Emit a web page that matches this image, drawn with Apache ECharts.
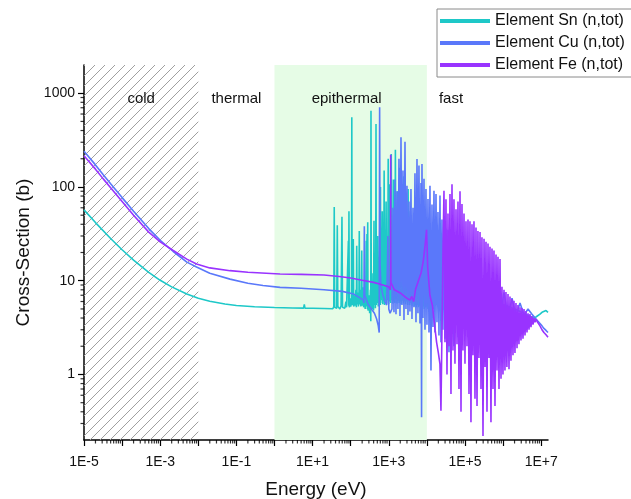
<!DOCTYPE html>
<html><head><meta charset="utf-8">
<script src="https://cdn.jsdelivr.net/npm/echarts/dist/echarts.min.js"></script>
<style>html,body{margin:0;padding:0;background:#fff}#c{width:631px;height:499px}</style>
</head><body><div id="c"></div>
<script>
// ---------------- data (energy in eV, cross-section in barns) ----------------
const snData = [[1e-5,57],[2e-5,41.7],[5e-5,28.2],[1e-4,21.4],[2e-4,16.6],[5e-4,12.3],[1e-3,10.1],[2e-3,8.6],[5e-3,7.2],[1e-2,6.5],[2e-2,6.05],[5e-2,5.65],[0.1,5.45],[0.3,5.28],[1,5.18],[3,5.12],[5.8,5.1],[6.06,5.6],[6.3,5.1],[10,5.08],[20,5.05],[34,5.02],
[36,5.3],[37,61],[38,5.2],[43,5.1],[44.5,39],[46,5.3],[52,5.0],[56,5.4],[59,48],[61,5.2],[70,5.1],[75,6],[78,5.2],[85,5.3],[87,26.7],[88.5,5.4],[90,55],[92,5.2],[98,6.5],[100,5.3],[105,5.8],[107,555],[109,5.5],[114,6.2],[117,27.8],[120,5.3],[126,7],[130,5.4],[137,8],[141,5.2],[144,23.6],[147,5.6],[155,7.5],[160,5.3],[165,6.5],[168,34],[171,5.6],[180,8],[185,5.3],[190,6.5],[195,21],[199,5.4],[210,8.5],[218,5.2],[230,7.5],[240,5.0],[250,9],[256,26.7],[260,5.3],[268,31.5],[273,5.0],[280,42],[285,4.8],[300,7],[315,4.5],[330,8],[337,3.7],[341,650],[347,5.2],[360,10],[370,5.0],[385,12],[398,4.8],[409,43.6],[418,5.5],[430,14],[445,5.1],[455,20],[462,470],[470,5.5],[485,15],[500,5.8],[515,30],[530,5.3],[548,18],[565,6],[582,45],[600,5.5],[605,100],[615,5.8],[635,25],[655,6.2],[675,55],[695,5.6],[715,20],[735,6],[755,150],[775,5.5],[800,35],[825,6.1],[850,70],[875,5.7],[905,22],[935,6.2],[965,200],[995,5.6],[1025,107],[1055,6],[1090,40],[1125,5.8],[1160,225],[1200,6.2],[1240,28],[1280,5.7],[1320,120],[1360,6],[1400,45],[1445,5.8],[1490,250],[1540,6.3],[1590,35],[1640,5.7],[1690,90],[1745,6.1],[1800,25],[1860,5.8],[1920,160],[1980,6],[2040,40],[2110,5.6],[2180,75],[2250,6.1],[2320,22],[2400,5.7],[2480,130],[2560,6],[2650,30],[2740,5.6],[2830,65],[2920,6],[3020,25],[3120,5.5],[3220,95],[3330,6],[3440,30],[3550,5.5],[3670,55],[3790,5.8],[3920,20],[4050,5.4],[4190,40],[4330,5.7],[4480,18],[4630,5.3],[4790,32],[4950,5.5],[5120,15],[5300,5.2],[5480,25],[5670,5.5],[5870,13],[6070,5.2],[6280,22],[6500,5.4],[6800,12],[7100,5.1],[7400,18],[7700,5.3],[8100,10],[8500,5],[8900,14],[9400,5.2],[1.0e4,10],[1.07e4,5],[1.15e4,12],[1.25e4,5.4],[1.35e4,9],[1.5e4,5],[1.65e4,10],[1.8e4,5.5],[2e4,8],[2.25e4,5],[2.5e4,9],[2.8e4,5.5],[3.2e4,8],[3.6e4,5.2],[4.1e4,8],[4.7e4,5.5],[5.4e4,7.5],[6.2e4,5.2],[7e4,7.5],[8e4,5.5],[9.3e4,7],[1.1e5,5.5],[1.3e5,7],[1.5e5,5.8],[1.8e5,6.8],[2.2e5,5.6],[2.7e5,6.5],[3.3e5,5.8],[4e5,6.3],[5e5,5.7],[6.5e5,6],[8.5e5,5.5],[1.1e6,5.5],[1.5e6,5.2],[2e6,5.0],[2.8e6,4.7],[3.8e6,4.4],[5e6,4.2],[6.1e6,4.0],[7.3e6,4.1],[8.2e6,4.2],[9.3e6,4.4],[1.05e7,4.6],[1.18e7,4.75],[1.34e7,4.8],[1.51e7,4.6]];

const cuData = [[1e-5,240],[2e-5,172],[3.2e-5,135],[5e-5,108],[1e-4,77],[2e-4,55],[5e-4,36],[1e-3,27],[2.2e-3,20.5],[5e-3,15.8],[9e-3,14],[2e-2,12],[6.8e-2,10.4],[0.2,9.4],[0.5,8.9],[1.4,8.5],[5,8.3],[20,8.0],[60,7.7],[120,7.2],[171,6.6],[215,6.2],[222,5.8],[228,38],[234,7.0],[283,5.65],[350,5.0],[420,4.5],[480,3.9],[530,3.3],[560,2.8],[575,710],[590,15],[620,9],[700,7],[800,6],[880,5.5],[950,30],[1000,5],[1080,4.5],[1150,4.3],
[1213,5.0],[1289,60],[1368,4.6],[1453,120],[1545,4.4],[1641,90],[1742,5.0],[1851,200],[1968,4.2],[2090,340],[2220,5.5],[2358,150],[2506,3.8],[2662,303],[2825,5.0],[3001,103],[3191,4.3],[3390,70],[3597,4.7],[3821,95],[4064,3.9],[4317,60],[4581,5.2],[4866,140],[5176,3.6],[5498,199],[5834,4.5],[6197,169],[6592,3.5],[7003,110],[7250,0.35],[7430,176],[7893,4],[8395,122],[8918,3.0],[9462,95],[1.005e4,3.4],[1.069e4,74.5],[1.136e4,2.8],[1.205e4,103],[1.28e4,1.1],[1.361e4,65],[1.446e4,3.2],[1.535e4,91],[1.631e4,2.8],[1.734e4,84],[1.842e4,3.6],[1.954e4,54],[2.076e4,2.6],[2.208e4,81],[2.345e4,2.2],[2.489e4,45],[2.644e4,3.0],[2.812e4,49],[2.987e4,2.4],[3.17e4,36],[3.37e4,2.8],[3.58e4,35],[3.80e4,1.73],[4.04e4,28],[4.29e4,3.3],[4.56e4,25],[5.14e4,2.0],[5.81e4,22],[6.55e4,2.5],[7.40e4,20],[8.34e4,2.2],[9.42e4,18],[1.062e5,3],[1.20e5,16],[1.352e5,2.5],[1.623e5,14],[1.945e5,3],[2.33e5,12],[2.79e5,3.5],[3.36e5,11],[4.02e5,3.5],[4.81e5,10],[5.77e5,3.8],[6.93e5,9],[8.30e5,4.0],[1.057e6,7.5],[1.346e6,4.0],[1.714e6,6.5],[2.18e6,4.2],[2.78e6,5.8],[3.54e6,4.3],[4.51e6,5.0],[5.74e6,4.4],[7.31e6,3.9],[8.24e6,3.7],[9.31e6,3.5],[1.05e7,3.3],[1.18e7,3.1],[1.34e7,2.95],[1.51e7,2.8]];

const feData = [[1e-5,215],[2e-5,155],[3.2e-5,122],[5e-5,98],[1e-4,70],[2e-4,50],[5e-4,33],[1e-3,26],[2.2e-3,21],[5e-3,17],[9e-3,15.1],[2e-2,13.7],[6.8e-2,12.8],[0.2,12.3],[1.4,11.8],[5,11.7],[20,11.5],[50,11.1],[100,10.7],[200,10.1],[400,9.6],[700,9.0],[1000,8.6],[1100,8.0],[1122,220],[1145,9.5],[1400,8.0],[2000,7.4],[3000,6.5],[3600,6.2],[4000,6.8],[4500,6.0],[5000,8],[6000,10],[7000,12],[8000,16],[9000,24],[9800,35],[1.05e4,14],[1.2e4,7],[1.4e4,5.4],[1.6e4,3.3],[1.8e4,2.2],[2.0e4,1.7],[2.2e4,1.3],
[2.34e4,0.41],[2.49e4,3.0],[2.64e4,20],[2.81e4,91],[2.99e4,2.2],[3.17e4,74],[3.37e4,1.0],[3.58e4,52],[3.80e4,2.0],[4.04e4,84],[4.29e4,0.62],[4.56e4,107],[4.84e4,1.8],[5.14e4,74],[5.46e4,1.3],[5.81e4,58],[6.17e4,2.1],[6.55e4,70],[6.96e4,0.7],[7.40e4,90],[7.86e4,0.40],[8.34e4,66],[8.86e4,1.8],[9.42e4,52],[1.0e5,1.3],[1.062e5,43],[1.128e5,2.0],[1.20e5,45],[1.275e5,0.62],[1.352e5,43],[1.436e5,0.31],[1.528e5,40],[1.623e5,1.6],[1.722e5,43],[1.83e5,0.55],[1.945e5,37],[2.07e5,0.46],[2.19e5,34],[2.33e5,1.5],[2.48e5,33],[2.63e5,0.7],[2.79e5,29],[2.97e5,0.22],[3.16e5,28],[3.36e5,1.2],[3.56e5,26],[3.78e5,0.40],[4.02e5,25],[4.27e5,1.5],[4.53e5,23],[4.81e5,0.31],[5.12e5,22],[5.44e5,0.7],[5.77e5,21],[6.13e5,0.46],[6.52e5,19],[6.93e5,1.1],[7.35e5,18],[7.81e5,0.7],[8.30e5,17],[8.82e5,0.9],[9.35e5,8.6],[9.93e5,1.0],[1.057e6,8.0],[1.12e6,1.1],[1.19e6,7.6],[1.26e6,1.2],[1.346e6,7.2],[1.43e6,1.14],[1.517e6,6.8],[1.61e6,1.4],[1.714e6,6.4],[1.82e6,1.6],[1.93e6,6.1],[2.05e6,1.7],[2.18e6,5.8],[2.32e6,1.9],[2.46e6,5.5],[2.61e6,2.1],[2.78e6,5.2],[2.95e6,2.3],[3.13e6,5.1],[3.33e6,2.4],[3.54e6,5.0],[3.76e6,2.6],[3.99e6,4.75],[4.24e6,2.8],[4.51e6,4.5],[4.79e6,3.0],[5.08e6,4.4],[5.40e6,3.2],[5.74e6,4.2],[6.10e6,3.4],[6.47e6,4.0],[6.87e6,3.6],[7.31e6,3.9],[7.76e6,3.7],[8.24e6,3.6],[9.31e6,3.3],[1.05e7,3.0],[1.18e7,2.8],[1.34e7,2.65],[1.51e7,2.5]];

const seriesNames = ['Element Sn (n,tot)', 'Element Cu (n,tot)', 'Element Fe (n,tot)'];
const seriesColors = ['#1ec8c8', '#5a78fa', '#9933ff'];

// energy regions [from, to, label]
const regionCold = [1e-5, 1e-2, 'cold'];
const regionThermal = [1e-2, 1, 'thermal'];
const regionEpithermal = [1, 1e4, 'epithermal'];
const regionFast = [1e4, 1.51e7, 'fast'];

// axis ranges and ticks
const xRange = [1e-5, 1.51e7];
const yRange = [0.2, 2000];
const xLabelExponents = [-5, -3, -1, 1, 3, 5, 7];
const yLabelValues = [1, 10, 100, 1000];
const xDecades = [-5, -4, -3, -2, -1, 0, 1, 2, 3, 4, 5, 6, 7];
const yDecades = [-1, 0, 1, 2, 3];
const minorFactors = [2, 3, 4, 5, 6, 7, 8, 9];

// ---------------- build ----------------
const FONT = '"Liberation Sans", Arial, sans-serif';

function hatch() {
  const c = document.createElement('canvas');
  c.width = 10; c.height = 10;
  const g = c.getContext('2d');
  g.strokeStyle = '#a0a0a0';
  g.lineWidth = 1;
  g.beginPath();
  g.moveTo(0, 10); g.lineTo(10, 0);
  g.moveTo(-1, 1); g.lineTo(1, -1);
  g.moveTo(9, 11); g.lineTo(11, 9);
  g.stroke();
  return { image: c, repeat: 'repeat' };
}

const xMinor = [];
xDecades.forEach(d => minorFactors.forEach(f => {
  const v = f * Math.pow(10, d);
  if (v > xRange[0] && v < xRange[1]) xMinor.push([v, yRange[0]]);
}));
const yMinor = [];
yDecades.forEach(d => minorFactors.forEach(f => {
  const v = f * Math.pow(10, d);
  if (v > yRange[0] && v < yRange[1]) yMinor.push([xRange[0], v]);
}));

function areaLabel(txt, pos, offset) {
  return { show: true, position: pos, distance: 26, offset: offset || [0, 0], formatter: txt,
           color: '#111', fontSize: 15, fontFamily: FONT };
}

const LW = 1.6;
const chart = echarts.init(document.getElementById('c'), null, { renderer: 'canvas' });
chart.setOption({
  animation: false,
  backgroundColor: '#fff',
  textStyle: { fontFamily: FONT },
  grid: { left: 84, right: 83, top: 65, bottom: 59, containLabel: false, outerBoundsMode: 'none' },
  legend: {
    data: seriesNames, orient: 'vertical', left: 437, top: 9,
    icon: 'rect', itemWidth: 50, itemHeight: 4, itemGap: 6,
    padding: [4, 60, 4, 3], borderColor: '#8a8a8a', borderWidth: 1, backgroundColor: '#fff',
    textStyle: { fontSize: 16, color: '#111', fontFamily: FONT }
  },
  xAxis: {
    type: 'log', logBase: 10, min: xRange[0], max: xRange[1], interval: 1,
    name: 'Energy (eV)', nameLocation: 'middle', nameGap: 40,
    nameTextStyle: { fontSize: 19, color: '#111', fontFamily: FONT },
    axisLine: { lineStyle: { color: '#000', width: 1.5 } },
    axisTick: { length: 6, lineStyle: { color: '#000', width: 1.2 } },
    axisLabel: {
      fontSize: 14, color: '#111', margin: 15, fontFamily: FONT, showMaxLabel: false,
      formatter: v => {
        const l = Math.log10(v), e = Math.round(l);
        if (Math.abs(l - e) > 0.01 || xLabelExponents.indexOf(e) < 0) return '';
        return '1E' + (e < 0 ? '-' : '+') + Math.abs(e);
      }
    },
    splitLine: { show: false }
  },
  yAxis: {
    type: 'log', logBase: 10, min: yRange[0], max: yRange[1],
    name: 'Cross-Section (b)', nameLocation: 'middle', nameGap: 50,
    nameTextStyle: { fontSize: 19, color: '#111', fontFamily: FONT },
    axisLine: { lineStyle: { color: '#000', width: 1.5 } },
    axisTick: { length: 6, lineStyle: { color: '#000', width: 1.2 } },
    axisLabel: {
      fontSize: 14, color: '#111', margin: 9, fontFamily: FONT, showMinLabel: false, showMaxLabel: false,
      formatter: v => {
        const r = Math.round(v);
        return yLabelValues.indexOf(r) >= 0 && Math.abs(v - r) < 1e-6 ? String(r) : '';
      }
    },
    splitLine: { show: false }
  },
  series: [
    {
      name: seriesNames[0], type: 'line', data: snData, showSymbol: false, symbol: 'none',
      color: seriesColors[0], lineStyle: { width: LW, color: seriesColors[0] }, z: 3,
      markArea: {
        silent: true,
        data: [
          [{ xAxis: regionCold[0], itemStyle: { color: hatch() }, label: areaLabel(regionCold[2], 'insideTop') }, { xAxis: regionCold[1] }],
          [{ xAxis: regionThermal[0], itemStyle: { color: 'rgba(0,0,0,0)' }, label: areaLabel(regionThermal[2], 'insideTop') }, { xAxis: regionThermal[1] }],
          [{ xAxis: regionEpithermal[0], itemStyle: { color: '#e6fce6' }, label: areaLabel(regionEpithermal[2], 'insideTop', [-4, 0]) }, { xAxis: regionEpithermal[1] }],
          [{ xAxis: regionFast[0], itemStyle: { color: 'rgba(0,0,0,0)' }, label: Object.assign(areaLabel(regionFast[2], 'insideTopLeft'), { distance: 12, offset: [0, 14] }) }, { xAxis: regionFast[1] }]
        ]
      }
    },
    { name: seriesNames[1], type: 'line', data: cuData, showSymbol: false, symbol: 'none',
      color: seriesColors[1], lineStyle: { width: LW, color: seriesColors[1] }, z: 4 },
    { name: seriesNames[2], type: 'line', data: feData, showSymbol: false, symbol: 'none',
      color: seriesColors[2], lineStyle: { width: LW, color: seriesColors[2] }, z: 5 },
    { type: 'scatter', data: xMinor, symbol: 'rect', symbolSize: [1.2, 3.5], symbolOffset: [0, 1.75],
      itemStyle: { color: '#000' }, clip: false, silent: true, z: 6 },
    { type: 'scatter', data: yMinor, symbol: 'rect', symbolSize: [3.5, 1.2], symbolOffset: [-1.75, 0],
      itemStyle: { color: '#000' }, clip: false, silent: true, z: 6 }
  ]
});
</script>
</body></html>
